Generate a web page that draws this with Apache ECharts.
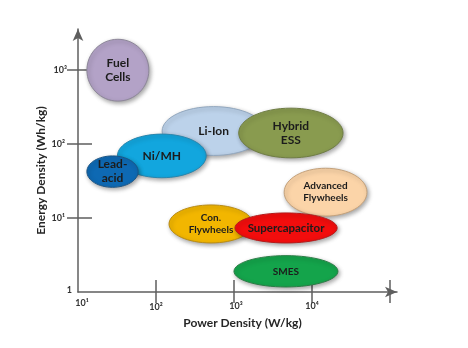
<!DOCTYPE html>
<html><head><meta charset="utf-8">
<script src="https://cdn.jsdelivr.net/npm/echarts@6/dist/echarts.min.js"></script>
<style>html,body{margin:0;padding:0;background:#fff}#c{width:468px;height:348px}</style>
</head><body><div id="c"></div>
<script>
// Ragone plot data (ranges)
const technologies = ['Fuel\nCells','Li-Ion','Hybrid\nESS','Ni/MH','Lead-\nacid','Con.\nFlywheels','Advanced\nFlywheels','Supercapacitor','SMES'];
const powerMin  = [13, 120, 1150, 32, 13, 147, 4400, 1030, 1000];      // W/kg
const powerMax  = [81, 2500, 25000, 440, 59, 1750, 50700, 21000, 21500];
const energyMin = [380, 70, 65, 35, 26, 4.6, 10.6, 4.6, 1.17];         // Wh/kg
const energyMax = [2600, 320, 305, 136, 69, 15, 47, 11.7, 3.1];
const powerTicks = [10, 100, 1000, 10000];
const powerTickLabels = ['10\u00B9', '10\u00B2', '10\u00B3', '10\u2074'];
const energyTicks = [1, 10, 100, 1000];
const energyTickLabels = ['1', '10\u00B9', '10\u00B2', '10\u00B3'];

// styles
const fills = ['#b3a2c7', '#bcd2ea', '#899b4f', '#12a6de', '#0e69b3', '#f2b600', '#fbd4a8', '#f20d0d', '#14a44b'];
const strokes = ['#8d8799', '#93a8bf', '#6f7d44', '#2a86ad', '#1b5585', '#b98c16', '#c4a27c', '#b51b1b', '#2a7d45'];
const fontSizes = [12, 12, 12, 12, 12, 10, 10, 11.5, 10];
const lineHeights = [14, 14, 14, 14, 14, 12, 12, 14, 12];
const axisColor = '#5f5f5f';
const FONT = 'Lato, "Open Sans", sans-serif';

const chart = echarts.init(document.getElementById('c'), null, {renderer: 'canvas'});

const xMin = 10, xMax = Math.pow(10, 5.09);
const yMin = 1, yMax = Math.pow(10, 3.554);

function xIdx(v) { return Math.round(Math.log10(v)) - 1; }
function yIdx(v) { return Math.round(Math.log10(v)); }

const xLabelStyles = {
  x0: {padding: [0, 0, 0, 8]},
  x1: {padding: [8.5, 0, 0, 0]},
  x2: {padding: [5.5, 0, 0, 4]},
  x3: {padding: [5.5, 0, 0, 0]}
};
Object.keys(xLabelStyles).forEach(k => Object.assign(xLabelStyles[k], {fontSize: 9, fontWeight: 'bold', fontFamily: FONT, color: '#333', lineHeight: 10}));
const yLabelStyles = {
  y0: {padding: [0, 0, 3, 0]},
  y1: {padding: [0, 7, 0, 0]},
  y2: {padding: [0, 7, 0, 0]},
  y3: {padding: [0, 5, 0, 0]}
};
Object.keys(yLabelStyles).forEach(k => Object.assign(yLabelStyles[k], {fontSize: 9, fontWeight: 'bold', fontFamily: FONT, color: '#333', lineHeight: 10}));

const tickLine = {color: axisColor, width: 1.5};

const option = {
  animation: false,
  backgroundColor: '#fff',
  grid: {left: 78, right: 71, top: 29, bottom: 56, containLabel: false},
  xAxis: [
    {
      type: 'log', logBase: 10, min: xMin, max: xMax, position: 'bottom',
      name: 'Power Density (W/kg)', nameLocation: 'middle', nameGap: 25, nameMoveOverlap: false,
      nameTextStyle: {fontFamily: FONT, fontWeight: 'bold', fontSize: 12, color: '#262626', padding: [0, 0, 0, 10]},
      axisLine: {show: true, onZero: false, symbol: ['none', 'arrow'], symbolSize: [8, 12], lineStyle: {color: axisColor, width: 1.5}},
      axisTick: {show: true, inside: false, length: 11, customValues: [100, 1000, 10000, 100000], lineStyle: tickLine},
      axisLabel: {
        show: true, margin: 6, customValues: powerTicks,
        formatter: v => '{x' + xIdx(v) + '|' + powerTickLabels[xIdx(v)] + '}',
        rich: xLabelStyles
      },
      splitLine: {show: false}, minorTick: {show: false}
    },
    {
      type: 'log', logBase: 10, min: xMin, max: xMax, position: 'bottom',
      axisLine: {show: false},
      axisTick: {show: true, inside: true, length: 12, customValues: [100, 1000, 100000], lineStyle: tickLine},
      axisLabel: {show: false}, splitLine: {show: false}
    },
    {
      type: 'log', logBase: 10, min: xMin, max: xMax, position: 'bottom',
      axisLine: {show: false},
      axisTick: {show: true, inside: true, length: 7, customValues: [10000], lineStyle: tickLine},
      axisLabel: {show: false}, splitLine: {show: false}
    }
  ],
  yAxis: [
    {
      type: 'log', logBase: 10, min: yMin, max: yMax, position: 'left',
      name: 'Energy Density (Wh/kg)', nameLocation: 'middle', nameGap: 31, nameRotate: 90, nameMoveOverlap: false,
      nameTextStyle: {fontFamily: FONT, fontWeight: 'bold', fontSize: 12, color: '#262626', padding: [0, 20, 0, 0]},
      axisLine: {show: true, onZero: false, symbol: ['none', 'arrow'], symbolSize: [8, 12], lineStyle: {color: axisColor, width: 1.5}},
      axisTick: {show: true, inside: false, length: 11, customValues: [10, 100, 1000], lineStyle: tickLine},
      axisLabel: {
        show: true, margin: 6, customValues: energyTicks,
        formatter: v => '{y' + yIdx(v) + '|' + energyTickLabels[yIdx(v)] + '}',
        rich: yLabelStyles
      },
      splitLine: {show: false}, minorTick: {show: false}
    },
    {
      type: 'log', logBase: 10, min: yMin, max: yMax, position: 'left',
      axisLine: {show: false},
      axisTick: {show: true, inside: true, length: 14, customValues: [10, 100, 1000], lineStyle: tickLine},
      axisLabel: {show: false}, splitLine: {show: false}
    }
  ],
  series: [{
    type: 'custom',
    coordinateSystem: 'cartesian2d',
    xAxisIndex: 0, yAxisIndex: 0,
    clip: false,
    data: technologies.map((t, i) => [powerMin[i], powerMax[i], energyMin[i], energyMax[i]]),
    encode: {x: [0, 1], y: [2, 3]},
    renderItem: function (params, api) {
      const i = params.dataIndex;
      const a = api.coord([api.value(0), api.value(2)]);
      const b = api.coord([api.value(1), api.value(3)]);
      const cx = (a[0] + b[0]) / 2, cy = (a[1] + b[1]) / 2;
      const rx = Math.abs(b[0] - a[0]) / 2, ry = Math.abs(b[1] - a[1]) / 2;
      return {
        type: 'group',
        children: [
          {
            type: 'ellipse',
            shape: {cx: cx, cy: cy, rx: rx, ry: ry},
            style: {fill: fills[i], stroke: strokes[i], lineWidth: 1,
              shadowBlur: 4, shadowColor: 'rgba(0,0,0,0.35)', shadowOffsetX: 1.5, shadowOffsetY: 2}
          },
          {
            type: 'text',
            x: cx, y: cy,
            style: {text: technologies[i], align: 'center', verticalAlign: 'middle',
              font: 'bold ' + fontSizes[i] + 'px ' + FONT, lineHeight: lineHeights[i], fill: '#1c1c1c'}
          }
        ]
      };
    }
  }]
};
chart.setOption(option);
</script>
</body></html>
